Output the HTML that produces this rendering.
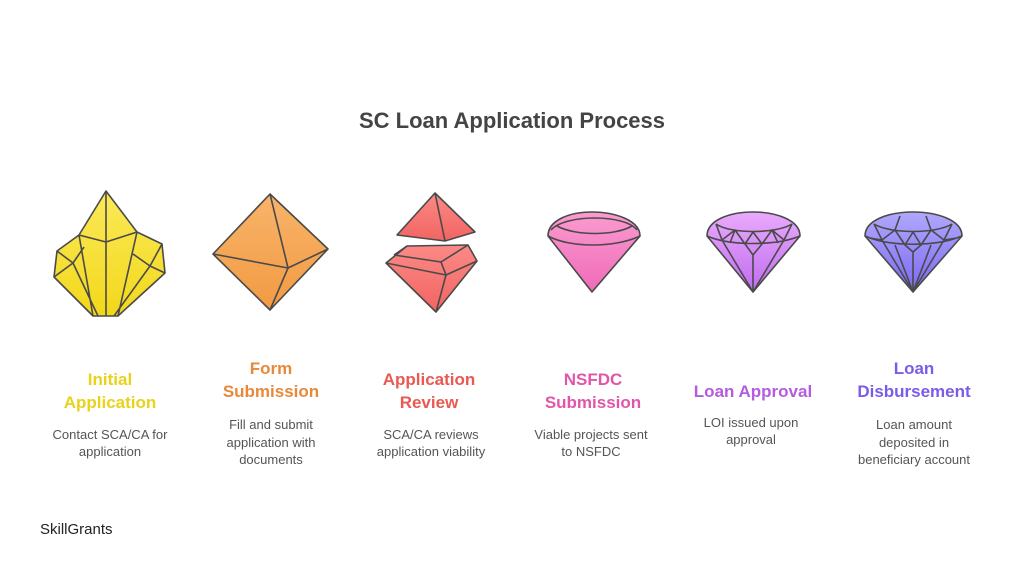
<!DOCTYPE html>
<html><head><meta charset="utf-8"><style>
html,body{margin:0;padding:0;background:#fff;width:1024px;height:576px;overflow:hidden}
svg{display:block}
.h{font-family:"Liberation Sans",sans-serif;font-weight:bold;font-size:17px;text-anchor:middle}
.b{font-family:"Liberation Sans",sans-serif;font-size:13px;fill:#555;text-anchor:middle}
</style></head><body>
<svg width="1024" height="576" viewBox="0 0 1024 576">
<defs>
<linearGradient id="gy" x1="0" y1="0" x2="0" y2="1"><stop offset="0" stop-color="#fbe95a"/><stop offset="1" stop-color="#f2d81a"/></linearGradient>
<linearGradient id="go" x1="0" y1="0" x2="0" y2="1"><stop offset="0" stop-color="#f8b46a"/><stop offset="1" stop-color="#f29a42"/></linearGradient>
<linearGradient id="gr" x1="0" y1="0" x2="0" y2="1"><stop offset="0" stop-color="#fb8a86"/><stop offset="1" stop-color="#f26462"/></linearGradient>
<linearGradient id="gp" x1="0" y1="0" x2="0" y2="1"><stop offset="0" stop-color="#fb9bd0"/><stop offset="1" stop-color="#f06ab8"/></linearGradient>
<linearGradient id="gv" x1="0" y1="0" x2="0" y2="1"><stop offset="0" stop-color="#eaaafc"/><stop offset="1" stop-color="#c06cf0"/></linearGradient>
<linearGradient id="gb" x1="0" y1="0" x2="0" y2="1"><stop offset="0" stop-color="#b0a8fc"/><stop offset="1" stop-color="#7c68f4"/></linearGradient>
</defs>
<text x="512" y="128" style="font-family:'Liberation Sans',sans-serif;font-weight:bold;font-size:22px;fill:#444" text-anchor="middle">SC Loan Application Process</text>

<g stroke="#4a4a4a" stroke-width="1.6" stroke-linejoin="round" fill="none">
<!-- yellow crystal -->
<path d="M106,191 L137,232 L162,244 L165,273 L118,316 L93,316 L54,277 L57,251 L79,235 Z" fill="url(#gy)"/>
<path d="M106,191 L106,242 L106,316 M79,235 L106,242 L137,232 M79,235 L93,316 M137,232 L118,316 M57,251 L73,263 L84,247 M73,263 L54,277 M73,263 L98,316 M162,244 L150,266 L165,273 M150,266 L114,316 M150,266 L133,254"/>
<!-- orange octahedron -->
<path d="M270,194 L328,249 L270,310 L213,254 Z" fill="url(#go)"/>
<path d="M270,194 L288,268 L270,310 M213,254 L288,268 L328,249"/>
<!-- red -->
<path d="M435,193 L475,232 L445,241 L397,235 Z" fill="url(#gr)"/>
<path d="M435,193 L445,241"/>
<path d="M407,246 L468,245 L477,261 L436,312 L386,263 Z" fill="url(#gr)"/>
<path d="M386,263 L446,275 L477,261 M446,275 L436,312 M394,255 L441,262 L468,245 M441,262 L446,275 M407,246 L394,255"/>
<!-- pink -->
<path d="M548,236 C548,220 570,212 592,212 C614,212 640,220 640,236 L592,292 Z" fill="url(#gp)"/>
<path d="M551,230 C565,214 625,214 637,230 M548,236 C570,248 615,248 640,236"/>
<path d="M557,226 C575,236 615,236 632,226"/>
<!-- purple -->
<path d="M707,236 C707,220 730,212 753,212 C776,212 800,220 800,236 L753,292 Z" fill="url(#gv)"/>
<path d="M716,224 C730,234 776,234 792,224 M707,236 C730,246 776,246 800,236 M716,224 L722,240 L735,230 L745,244 L753,232 L762,244 L772,230 L784,240 L792,224 M745,244 L753,255 L762,244 M753,255 L753,292 M722,240 L753,292 M784,240 L753,292 M735,230 L730,243 M772,230 L778,243"/>
<!-- blue -->
<path d="M865,236 C865,220 889,212 913,212 C937,212 962,220 962,236 L913,292 Z" fill="url(#gb)"/>
<path d="M874,224 C890,234 936,234 952,224 M865,236 C890,247 936,247 962,236 M874,224 L882,240 L895,230 L905,245 L913,232 L921,245 L931,230 L944,240 L952,224 M895,230 L900,216 M931,230 L926,216 M905,245 L913,252 L921,245 M913,252 L913,292 M882,240 L913,292 M944,240 L913,292 M895,245 L913,292 M931,245 L913,292 M870,238 L882,240 M944,240 L957,238"/>
</g>

<text class="h" fill="#e8d21a"><tspan x="110" y="385">Initial</tspan><tspan x="110" y="408">Application</tspan></text>
<text class="b"><tspan x="110" y="439">Contact SCA/CA for</tspan><tspan x="110" y="456">application</tspan></text>

<text class="h" fill="#e8893a"><tspan x="271" y="374">Form</tspan><tspan x="271" y="397">Submission</tspan></text>
<text class="b"><tspan x="271" y="429">Fill and submit</tspan><tspan x="271" y="447">application with</tspan><tspan x="271" y="464">documents</tspan></text>

<text class="h" fill="#e85a52"><tspan x="429" y="385">Application</tspan><tspan x="429" y="408">Review</tspan></text>
<text class="b"><tspan x="431" y="439">SCA/CA reviews</tspan><tspan x="431" y="456">application viability</tspan></text>

<text class="h" fill="#e256aa"><tspan x="593" y="385">NSFDC</tspan><tspan x="593" y="408">Submission</tspan></text>
<text class="b"><tspan x="591" y="439">Viable projects sent</tspan><tspan x="591" y="456">to NSFDC</tspan></text>

<text class="h" fill="#b45be0"><tspan x="753" y="397">Loan Approval</tspan></text>
<text class="b"><tspan x="751" y="427">LOI issued upon</tspan><tspan x="751" y="444">approval</tspan></text>

<text class="h" fill="#7a5ce8"><tspan x="914" y="374">Loan</tspan><tspan x="914" y="397">Disbursement</tspan></text>
<text class="b"><tspan x="914" y="429">Loan amount</tspan><tspan x="914" y="447">deposited in</tspan><tspan x="914" y="464">beneficiary account</tspan></text>

<text x="40" y="534" style="font-family:'Liberation Sans',sans-serif;font-size:15px;fill:#222">SkillGrants</text>
</svg>
</body></html>
